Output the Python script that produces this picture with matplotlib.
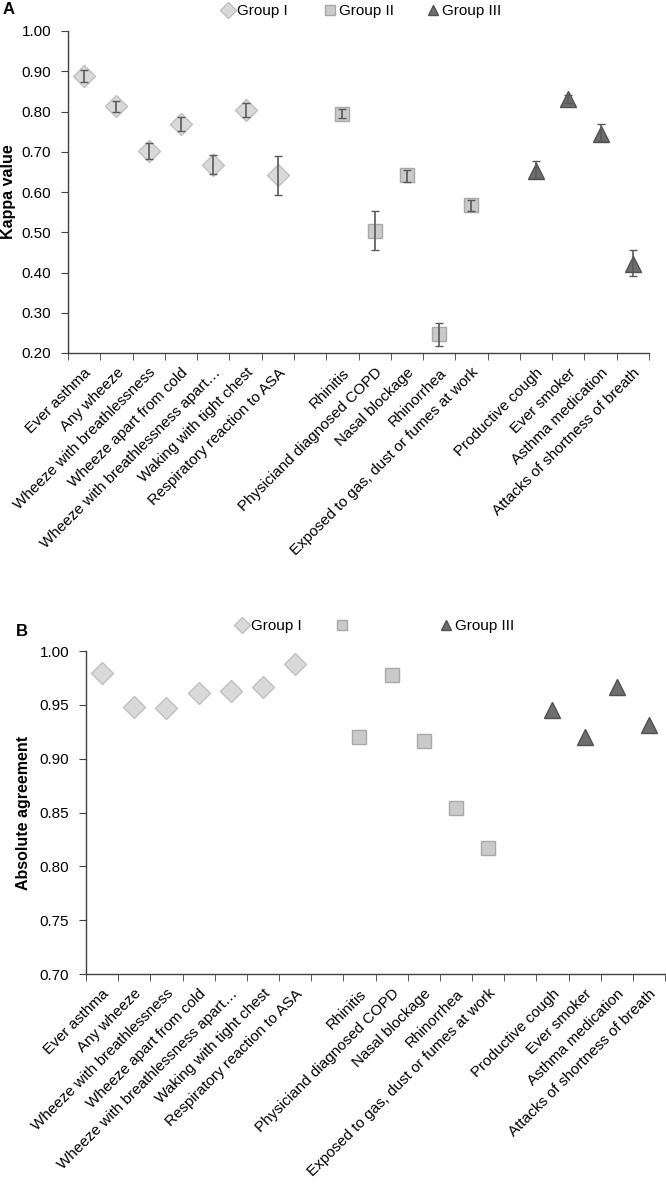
import matplotlib
matplotlib.use("Agg")
import matplotlib.pyplot as plt
from matplotlib.lines import Line2D
import numpy as np

plt.rcParams['font.family'] = ['Liberation Sans', 'DejaVu Sans']

labels = ["Ever asthma", "Any wheeze", "Wheeze with breathlessness",
          "Wheeze apart from cold", "Wheeze with breathlessness apart…",
          "Waking with tight chest", "Respiratory reaction to ASA", "",
          "Rhinitis", "Physiciand diagnosed COPD", "Nasal blockage",
          "Rhinorrhea", "Exposed to gas, dust or fumes at work", "",
          "Productive cough", "Ever smoker", "Asthma medication",
          "Attacks of shortness of breath"]

g1_idx = [0, 1, 2, 3, 4, 5, 6]
g2_idx = [8, 9, 10, 11, 12]
g3_idx = [14, 15, 16, 17]

# Panel A: kappa values with CI
kappa_g1 = [0.888, 0.813, 0.702, 0.769, 0.668, 0.804, 0.641]
kappa_g1_lo = [0.874, 0.799, 0.682, 0.751, 0.644, 0.787, 0.592]
kappa_g1_hi = [0.902, 0.826, 0.721, 0.787, 0.693, 0.821, 0.689]
kappa_g2 = [0.794, 0.504, 0.642, 0.247, 0.567]
kappa_g2_lo = [0.783, 0.457, 0.625, 0.218, 0.552]
kappa_g2_hi = [0.807, 0.552, 0.655, 0.274, 0.579]
kappa_g3 = [0.651, 0.831, 0.745, 0.421]
kappa_g3_lo = [0.634, 0.820, 0.726, 0.391]
kappa_g3_hi = [0.677, 0.842, 0.768, 0.456]

# Panel B: absolute agreement
agree_g1 = [0.980, 0.948, 0.947, 0.961, 0.963, 0.967, 0.988]
agree_g2 = [0.920, 0.978, 0.916, 0.854, 0.817]
agree_g3 = [0.945, 0.920, 0.967, 0.931]

legend_names_A = ["Group I", "Group II", "Group III"]
legend_names_B = ["Group I", "", "Group III"]

W, H = 666, 1186
fig = plt.figure(figsize=(W / 100, H / 100), dpi=100)

def rect(x0, x1, ytop, ybot):
    return [x0 / W, 1 - ybot / H, (x1 - x0) / W, (ybot - ytop) / H]

axA = fig.add_axes(rect(68, 649, 31, 353))
axB = fig.add_axes(rect(86, 665, 651, 974))

styles = {
    'g1': dict(marker='D', ms=11, mfc='#d9d9d9', mec='#c0c0c0', mew=1.0),
    'g2': dict(marker='s', ms=10, mfc='#cacaca', mec='#a8a8a8', mew=1.0),
    'g3': dict(marker='^', ms=11, mfc='#6e6e6e', mec='#505050', mew=1.0),
}
ecol = '#595959'
FS = 11

def style_axis(ax, ylim, yticks):
    n = len(labels)
    ax.set_xlim(0, n)
    ax.set_ylim(*ylim)
    ax.set_yticks(yticks)
    ax.set_yticklabels([f"{v:.2f}" for v in yticks], fontsize=FS)
    ax.set_xticks(np.arange(n) + 0.5)
    ax.set_xticklabels(labels, rotation=45, ha='right', rotation_mode='anchor', fontsize=FS)
    ax.set_xticks(np.arange(n + 1), minor=True)
    ax.tick_params(axis='x', which='major', length=0, pad=9)
    ax.tick_params(axis='x', which='minor', length=5, direction='out', color='#404040')
    ax.tick_params(axis='y', length=5, direction='out', color='#404040', pad=7)
    for s in ['top', 'right']:
        ax.spines[s].set_visible(False)
    for s in ['left', 'bottom']:
        ax.spines[s].set_color('#404040')
        ax.spines[s].set_linewidth(1.0)

# Panel A
for idx, v, lo, hi, key in [(g1_idx, kappa_g1, kappa_g1_lo, kappa_g1_hi, 'g1'),
                            (g2_idx, kappa_g2, kappa_g2_lo, kappa_g2_hi, 'g2'),
                            (g3_idx, kappa_g3, kappa_g3_lo, kappa_g3_hi, 'g3')]:
    x = np.array(idx) + 0.5
    v = np.array(v)
    yerr = [v - np.array(lo), np.array(hi) - v]
    axA.plot(x, v, ls='none', zorder=2, **styles[key])
    axA.errorbar(x, v, yerr=yerr, fmt='none', ecolor=ecol, elinewidth=1.2,
                 capsize=3, capthick=1.0, zorder=3)
style_axis(axA, (0.2, 1.0), np.arange(0.2, 1.001, 0.1))
axA.set_ylabel("Kappa value", fontsize=11.5, fontweight='bold', va='center')
axA.yaxis.set_label_coords((9 - 68) / 581, 0.5)

# Panel B
for idx, v, key in [(g1_idx, agree_g1, 'g1'), (g2_idx, agree_g2, 'g2'), (g3_idx, agree_g3, 'g3')]:
    x = np.array(idx) + 0.5
    axB.plot(x, v, ls='none', zorder=2, **styles[key])
style_axis(axB, (0.7, 1.0), np.arange(0.7, 1.001, 0.05))
axB.set_ylabel("Absolute agreement", fontsize=11.5, fontweight='bold', va='center')
axB.yaxis.set_label_coords((24 - 86) / 579, 0.5)

# Legends: one entry each, placed at the marker x positions
def add_legend(names, xs, y):
    for key, nm, x in zip(['g1', 'g2', 'g3'], names, xs):
        st = dict(styles[key])
        st['ms'] = st['ms'] * 0.7
        h = Line2D([], [], ls='none', **st)
        fig.legend([h], [nm], loc='center left', bbox_to_anchor=((x - 6) / W, 1 - y / H),
                   frameon=False, fontsize=FS, handlelength=0.8, handletextpad=0.15,
                   borderpad=0, borderaxespad=0)

add_legend(legend_names_A, [228, 330, 433], 11)
add_legend(legend_names_B, [242, 342, 446], 626)

fig.text(3 / W, 1 - 9 / H, "A", fontsize=12, fontweight='bold', va='center', ha='left')
fig.text(16 / W, 1 - 632 / H, "B", fontsize=12, fontweight='bold', va='center', ha='left')

fig.savefig("out.png", dpi=100)
